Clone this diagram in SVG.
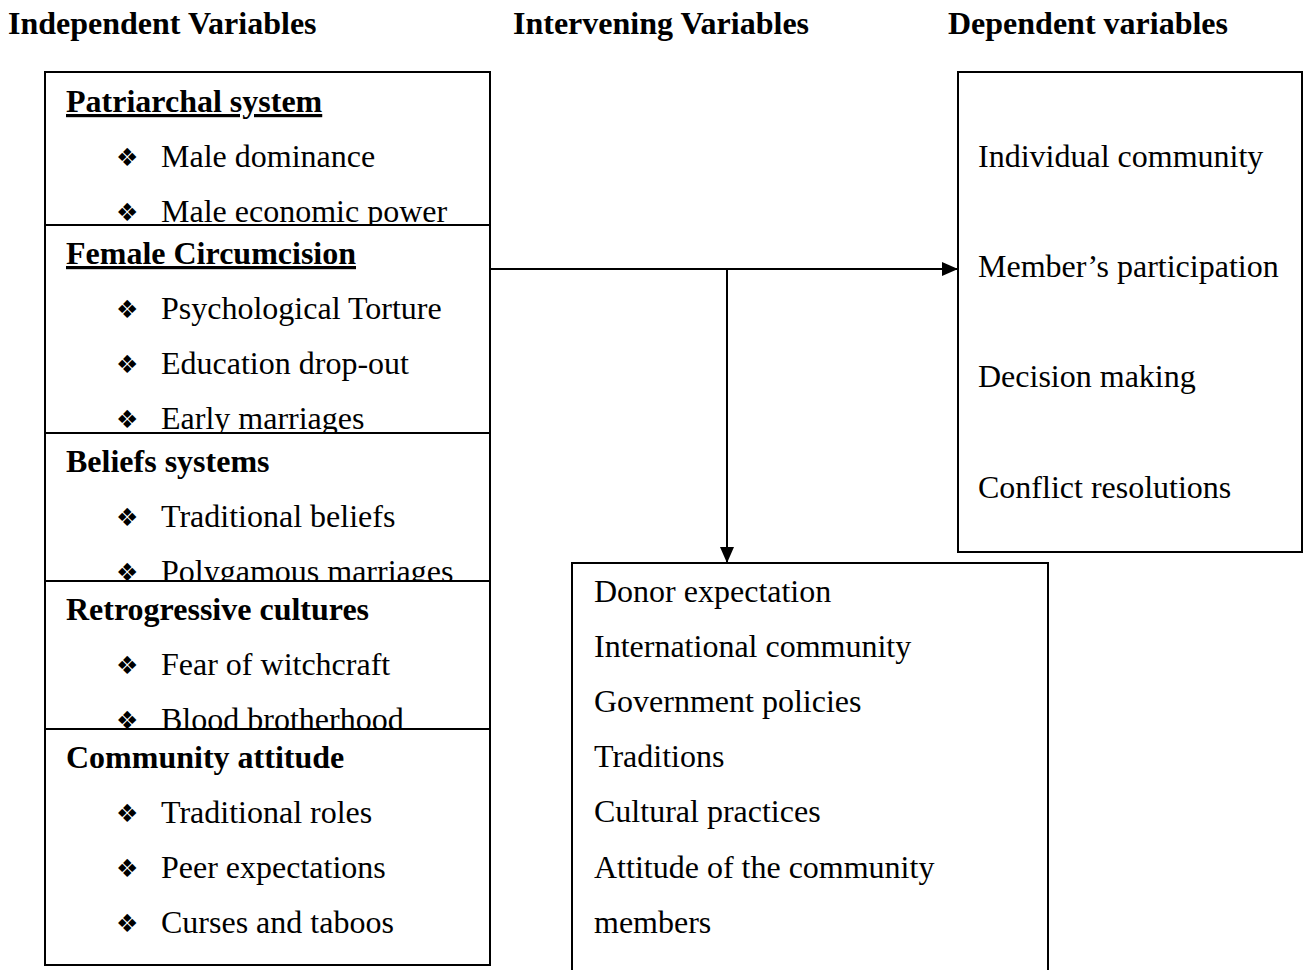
<svg xmlns="http://www.w3.org/2000/svg" width="1306" height="970" viewBox="0 0 1306 970">
<style>
text{font-family:"Liberation Serif","Times New Roman",serif;font-size:32px;fill:#000}
.h{font-weight:bold}
.u{text-decoration:underline}
.b{font-family:"DejaVu Sans",sans-serif;font-size:25px}
.box{fill:#fff;stroke:#000;stroke-width:2}
.ln{stroke:#000;stroke-width:2;fill:none}
</style>
<defs>
<marker id="ah" markerWidth="16" markerHeight="14" refX="15" refY="7" orient="auto" markerUnits="userSpaceOnUse">
<path d="M0,0 L16,7 L0,14 Z" fill="#000"/>
</marker>
</defs>
<rect width="1306" height="970" fill="#fff"/>
<g id="headers">
<text class="h" x="8" y="34">Independent Variables</text>
<text class="h" x="513" y="34">Intervening Variables</text>
<text class="h" x="948" y="34">Dependent variables</text>
</g>
<g id="patriarchal">
<rect class="box" x="45" y="72" width="445" height="170"/>
<text class="h u" x="66" y="112">Patriarchal system</text>
<text class="b" x="116" y="166">❖</text><text x="161" y="167">Male dominance</text>
<text class="b" x="116" y="221">❖</text><text x="161" y="222">Male economic power</text>
</g>
<g id="circumcision">
<rect class="box" x="45" y="225" width="445" height="230"/>
<text class="h u" x="66" y="264">Female Circumcision</text>
<text class="b" x="116" y="318">❖</text><text x="161" y="319">Psychological Torture</text>
<text class="b" x="116" y="373">❖</text><text x="161" y="374">Education drop-out</text>
<text class="b" x="116" y="428">❖</text><text x="161" y="429">Early marriages</text>
</g>
<g id="beliefs">
<rect class="box" x="45" y="433" width="445" height="170"/>
<text class="h" x="66" y="472">Beliefs systems</text>
<text class="b" x="116" y="526">❖</text><text x="161" y="527">Traditional beliefs</text>
<text class="b" x="116" y="581">❖</text><text x="161" y="582">Polygamous marriages</text>
</g>
<g id="retrogressive">
<rect class="box" x="45" y="581" width="445" height="170"/>
<text class="h" x="66" y="620">Retrogressive cultures</text>
<text class="b" x="116" y="674">❖</text><text x="161" y="675">Fear of witchcraft</text>
<text class="b" x="116" y="729">❖</text><text x="161" y="730">Blood brotherhood</text>
</g>
<g id="community">
<rect class="box" x="45" y="729" width="445" height="236"/>
<text class="h" x="66" y="768">Community attitude</text>
<text class="b" x="116" y="822">❖</text><text x="161" y="823">Traditional roles</text>
<text class="b" x="116" y="877">❖</text><text x="161" y="878">Peer expectations</text>
<text class="b" x="116" y="932">❖</text><text x="161" y="933">Curses and taboos</text>
</g>
<g id="dependent">
<rect class="box" x="958" y="72" width="344" height="480"/>
<text x="978" y="167">Individual community</text>
<text x="978" y="277">Member’s participation</text>
<text x="978" y="387">Decision making</text>
<text x="978" y="498">Conflict resolutions</text>
</g>
<g id="intervening">
<path class="ln" d="M572,975 L572,563 L1048,563 L1048,975"/>
<text x="594" y="602">Donor expectation</text>
<text x="594" y="657">International community</text>
<text x="594" y="712">Government policies</text>
<text x="594" y="767">Traditions</text>
<text x="594" y="822">Cultural practices</text>
<text x="594" y="878">Attitude of the community</text>
<text x="594" y="933">members</text>
</g>
<g id="connectors">
<line class="ln" x1="490" y1="269" x2="957" y2="269" marker-end="url(#ah)"/>
<line class="ln" x1="727" y1="270" x2="727" y2="562" marker-end="url(#ah)"/>
</g>
</svg>
